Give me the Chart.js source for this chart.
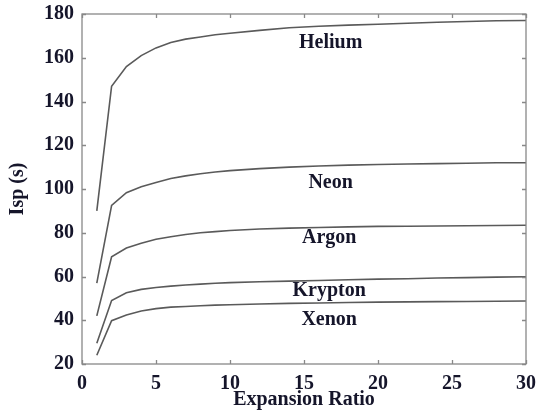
<!DOCTYPE html>
<html>
<head>
<meta charset="utf-8">
<script src="https://cdn.jsdelivr.net/npm/chart.js@4/dist/chart.umd.min.js"></script>
<style>
  html, body { margin: 0; padding: 0; background: #fff; }
  #wrap { width: 537px; height: 412px; }
</style>
</head>
<body>
<div id="wrap"><canvas id="ispChart"></canvas></div>
<script>
// expansion ratio points where the curves were read
var ratios = [1, 2, 3, 4, 5, 6, 7, 8, 9, 10, 12, 14, 16, 18, 20, 22, 24, 26, 28, 30];

var helium  = [90, 147, 156, 161, 164.5, 167, 168.5, 169.5, 170.5, 171.2, 172.5, 173.7, 174.4, 174.9, 175.3, 175.8, 176.2, 176.6, 176.9, 177];
var neon    = [57, 92.5, 98.3, 101, 103, 104.8, 106, 107, 107.8, 108.4, 109.3, 110, 110.5, 110.9, 111.2, 111.4, 111.6, 111.8, 112, 112];
var argon   = [42, 69, 73, 75.2, 77, 78.2, 79.2, 80, 80.5, 81, 81.7, 82.1, 82.4, 82.7, 82.9, 83, 83.1, 83.2, 83.3, 83.4];
var krypton = [29.5, 49, 52.6, 54.1, 55, 55.6, 56.1, 56.5, 56.9, 57.2, 57.6, 57.9, 58.2, 58.5, 58.8, 59, 59.3, 59.5, 59.7, 59.9];
var xenon   = [24, 39.8, 42.4, 44.2, 45.3, 46, 46.3, 46.6, 46.9, 47.1, 47.4, 47.7, 47.9, 48.1, 48.3, 48.4, 48.5, 48.6, 48.7, 48.8];

var gasNames = ["Helium", "Neon", "Argon", "Krypton", "Xenon"];
var gasSeries = [helium, neon, argon, krypton, xenon];
// where each name sits (x, Isp)
var labelX = [16.8, 16.8, 16.7, 16.7, 16.7];
var labelY = [167, 102.7, 77.6, 53.4, 40.1];

var serif = "'Liberation Serif', 'DejaVu Serif', serif";
var ink = "#15152a";

function toPoints(ys) {
  return ratios.map(function (x, i) { return { x: x, y: ys[i] }; });
}

// matlab style box with inward ticks, plus the gas names
var boxAndNames = {
  id: "boxAndNames",
  afterDatasetsDraw: function (chart) {
    var ctx = chart.ctx, a = chart.chartArea;
    var xs = chart.scales.x, ys = chart.scales.y;
    ctx.save();
    ctx.strokeStyle = "#888";
    ctx.lineWidth = 1.3;
    ctx.strokeRect(a.left, a.top, a.right - a.left, a.bottom - a.top);
    ctx.beginPath();
    xs.ticks.forEach(function (t) {
      var px = Math.round(xs.getPixelForValue(t.value)) + 0.5;
      ctx.moveTo(px, a.bottom); ctx.lineTo(px, a.bottom - 4);
      ctx.moveTo(px, a.top); ctx.lineTo(px, a.top + 4);
    });
    ys.ticks.forEach(function (t) {
      var py = Math.round(ys.getPixelForValue(t.value)) + 0.5;
      ctx.moveTo(a.left, py); ctx.lineTo(a.left + 4, py);
      ctx.moveTo(a.right, py); ctx.lineTo(a.right - 4, py);
    });
    ctx.stroke();

    ctx.fillStyle = ink;
    ctx.font = "bold 20px " + serif;
    ctx.textAlign = "center";
    ctx.textBaseline = "middle";
    gasNames.forEach(function (n, i) {
      ctx.fillText(n, xs.getPixelForValue(labelX[i]), ys.getPixelForValue(labelY[i]));
    });
    ctx.restore();
  }
};

new Chart("ispChart", {
  type: "line",
  data: {
    datasets: gasSeries.map(function (s, i) {
      return {
        label: gasNames[i],
        data: toPoints(s),
        borderColor: "#5a5a5a",
        borderWidth: 1.6,
        pointRadius: 0,
        tension: 0,
        fill: false
      };
    })
  },
  options: {
    responsive: true,
    maintainAspectRatio: false,
    animation: false,
    layout: { padding: { top: 14, right: 11, left: 0, bottom: 0 } },
    plugins: {
      legend: { display: false },
      tooltip: { enabled: false }
    },
    scales: {
      x: {
        type: "linear",
        min: 0,
        max: 30,
        grid: { display: false },
        border: { display: false },
        ticks: { stepSize: 5, color: ink, padding: 0, font: { family: serif, size: 20, weight: "bold" } },
        title: {
          display: true,
          text: "Expansion Ratio",
          color: ink,
          padding: { top: -3, bottom: 0 },
          font: { family: serif, size: 20, weight: "bold" }
        },
        afterFit: function (s) { s.height = 48; }
      },
      y: {
        min: 20,
        max: 180,
        grid: { display: false },
        border: { display: false },
        ticks: { stepSize: 20, color: ink, padding: 0, font: { family: serif, size: 20, weight: "bold" } },
        title: {
          display: true,
          text: "Isp (s)",
          color: ink,
          padding: { top: 6, bottom: 0 },
          font: { family: serif, size: 20, weight: "bold" }
        },
        afterFit: function (s) { s.width = 82; }
      }
    }
  },
  plugins: [boxAndNames]
});
</script>
</body>
</html>
